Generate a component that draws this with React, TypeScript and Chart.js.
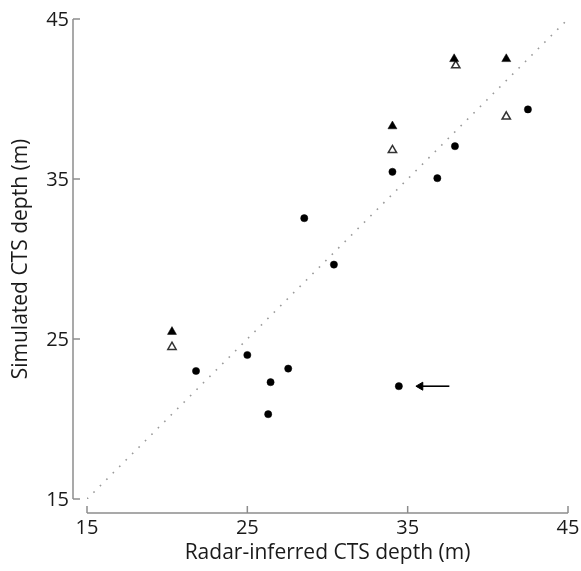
import React, { useEffect, useRef } from "react";
import { Chart, registerables } from "chart.js";

Chart.register(...registerables);

// Axis ranges and ticks
const X_MIN = 15;
const X_MAX = 45;
const Y_MIN = 15;
const Y_MAX = 45;
const xTicks = [15, 25, 35, 45];
const yTicks = [15, 25, 35, 45];
const xTitle = "Radar-inferred CTS depth (m)";
const yTitle = "Simulated CTS depth (m)";

// Filled circles
const circleX = [21.8, 25.0, 26.3, 26.45, 27.55, 28.55, 30.4, 34.05, 34.45, 36.85, 37.95, 42.5];
const circleY = [23.0, 24.0, 20.3, 22.3, 23.15, 32.55, 29.65, 35.45, 22.05, 35.05, 37.05, 39.35];

// Filled triangles
const filledTriX = [20.3, 34.05, 37.9, 41.15];
const filledTriY = [25.45, 38.3, 42.5, 42.5];

// Open triangles
const openTriX = [20.3, 34.05, 38.0, 41.15];
const openTriY = [24.5, 36.8, 42.1, 38.9];

// Arrow pointing at the outlier
const arrowX = [35.8, 37.6];
const arrowY = [22.05, 22.05];

// 1:1 reference line
const refX = [15, 45];
const refY = [15, 45];

const FONT = "'Open Sans', 'Noto Sans', sans-serif";

const zip = (xs: number[], ys: number[]) => xs.map((x, i) => ({ x, y: ys[i] }));

const offsetAxesPlugin = {
  id: "offsetAxes",
  afterDraw(chart: any) {
    const { ctx, chartArea } = chart;
    const xs = chart.scales.x;
    const ys = chart.scales.y;
    const yAxisX = chartArea.left - 14;
    const xAxisY = chartArea.bottom + 14;
    ctx.save();
    ctx.strokeStyle = "#8c8c8c";
    ctx.lineWidth = 1.5;
    // y axis
    ctx.beginPath();
    ctx.moveTo(yAxisX, ys.getPixelForValue(Y_MIN));
    ctx.lineTo(yAxisX, ys.getPixelForValue(Y_MAX));
    ctx.stroke();
    yTicks.forEach((v) => {
      const py = ys.getPixelForValue(v);
      ctx.beginPath();
      ctx.moveTo(yAxisX, py);
      ctx.lineTo(yAxisX + 7, py);
      ctx.stroke();
    });
    // x axis
    ctx.beginPath();
    ctx.moveTo(xs.getPixelForValue(X_MIN), xAxisY);
    ctx.lineTo(xs.getPixelForValue(X_MAX), xAxisY);
    ctx.stroke();
    xTicks.forEach((v) => {
      const px = xs.getPixelForValue(v);
      ctx.beginPath();
      ctx.moveTo(px, xAxisY);
      ctx.lineTo(px, xAxisY - 7);
      ctx.stroke();
    });
    // tick labels
    ctx.fillStyle = "#1a1a1a";
    ctx.font = `20px ${FONT}`;
    ctx.textAlign = "right";
    ctx.textBaseline = "middle";
    yTicks.forEach((v) => {
      ctx.fillText(String(v), yAxisX - 4, ys.getPixelForValue(v) + 1);
    });
    ctx.textAlign = "center";
    ctx.textBaseline = "middle";
    xTicks.forEach((v) => {
      ctx.fillText(String(v), xs.getPixelForValue(v), xAxisY + 15);
    });
    // titles
    ctx.font = `21px ${FONT}`;
    ctx.fillText(xTitle, (chartArea.left + chartArea.right) / 2, xAxisY + 40);
    ctx.save();
    ctx.translate(21, (chartArea.top + chartArea.bottom) / 2);
    ctx.rotate(-Math.PI / 2);
    ctx.fillText(yTitle, 0, 0);
    ctx.restore();
    ctx.restore();
  },
};

export default function App() {
  const canvasRef = useRef<HTMLCanvasElement | null>(null);

  useEffect(() => {
    if (!canvasRef.current) return;
    const chart = new Chart(canvasRef.current, {
      type: "scatter",
      data: {
        datasets: [
          {
            label: "arrow",
            data: zip(arrowX, arrowY),
            showLine: true,
            borderColor: "#000",
            borderWidth: 1.6,
            pointRadius: [4.6, 0],
            pointStyle: "triangle",
            pointRotation: [-90, 0],
            pointBackgroundColor: "#000",
            pointBorderColor: "#000",
            pointBorderWidth: 1,
          } as any,
          {
            label: "circles",
            data: zip(circleX, circleY),
            pointStyle: "circle",
            pointRadius: 3.6,
            pointBackgroundColor: "#000",
            pointBorderColor: "#000",
            pointBorderWidth: 0.5,
          },
          {
            label: "filled",
            data: zip(filledTriX, filledTriY),
            pointStyle: "triangle",
            pointRadius: 5.2,
            pointBackgroundColor: "#000",
            pointBorderColor: "#000",
            pointBorderWidth: 0.5,
          },
          {
            label: "open",
            data: zip(openTriX, openTriY),
            pointStyle: "triangle",
            pointRadius: 4.8,
            pointBackgroundColor: "#fff",
            pointBorderColor: "#333",
            pointBorderWidth: 1.5,
          },
          {
            label: "1:1",
            data: zip(refX, refY),
            showLine: true,
            borderColor: "#9a9a9a",
            borderWidth: 1.6,
            borderDash: [1.6, 7.5],
            pointRadius: 0,
          },
        ],
      },
      options: {
        animation: false,
        responsive: true,
        maintainAspectRatio: false,
        layout: { padding: { left: 87, right: 13, top: 19, bottom: 72 } },
        plugins: { legend: { display: false }, tooltip: { enabled: false } },
        scales: {
          x: { type: "linear", min: X_MIN, max: X_MAX, display: false },
          y: { type: "linear", min: Y_MIN, max: Y_MAX, display: false },
        },
      },
      plugins: [offsetAxesPlugin],
    });
    return () => chart.destroy();
  }, []);

  return (
    <div style={{ position: "fixed", left: 0, top: 0, width: 581, height: 571, background: "#fff" }}>
      <canvas ref={canvasRef} />
    </div>
  );
}
